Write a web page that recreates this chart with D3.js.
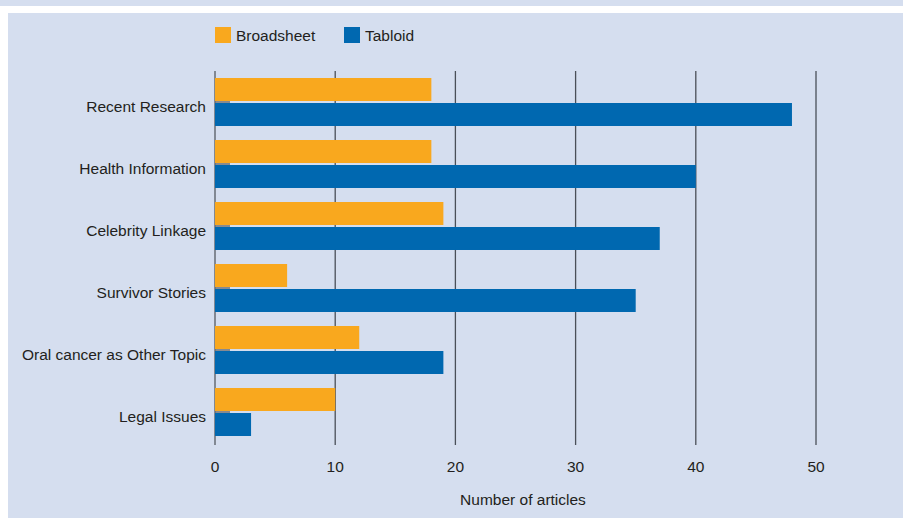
<!DOCTYPE html>
<html>
<head>
<meta charset="utf-8">
<script src="https://cdn.jsdelivr.net/npm/d3@7"></script>
<style>
  body { margin: 0; background: #fff; }
  text { font-family: "Liberation Sans Narrow", "Arial Narrow", sans-serif; fill: #231f20; }
</style>
</head>
<body>
<div id="chart"></div>
<script>
// chart data
const categories = ["Recent Research", "Health Information", "Celebrity Linkage",
                    "Survivor Stories", "Oral cancer as Other Topic", "Legal Issues"];
const seriesNames = ["Broadsheet", "Tabloid"];
const broadsheet = [18, 18, 19, 6, 12, 10];
const tabloid = [48, 40, 37, 35, 19, 3];
const xTicks = [0, 10, 20, 30, 40, 50];
const colors = ["#f9a81e", "#0068b0"];

const width = 903, height = 518;

const svg = d3.select("#chart").append("svg")
    .attr("width", width)
    .attr("height", height);

// background panels
svg.append("rect").attr("x", 0).attr("y", 0).attr("width", width).attr("height", 6).attr("fill", "#d5deef");
svg.append("rect").attr("x", 8).attr("y", 13).attr("width", width - 8).attr("height", height - 13).attr("fill", "#d5deef");

const x = d3.scaleLinear().domain([0, 50]).range([215, 816]);
const y = d3.scaleBand().domain(categories).range([71, 443])
    .paddingInner(0.226).paddingOuter(0.113);
const ySub = d3.scaleBand().domain(seriesNames).range([0, y.bandwidth()]).paddingInner(0.08);

const rows = categories.map((c, i) => ({cat: c, values: [broadsheet[i], tabloid[i]]}));

// gridlines
svg.append("g").selectAll("line")
    .data(xTicks)
    .enter().append("line")
    .attr("x1", d => x(d)).attr("x2", d => x(d))
    .attr("y1", 71).attr("y2", 445)
    .attr("stroke", d => d === 0 ? "#555a62" : "#4a4f58")
    .attr("stroke-width", 1.3);

// bars
let groups = svg.append("g").selectAll("g")
    .data(rows)
    .enter().append("g")
    .attr("transform", d => "translate(0," + y(d.cat) + ")");

groups.selectAll("rect")
    .data(d => d.values.map((v, j) => ({name: seriesNames[j], value: v, j: j})))
    .enter().append("rect")
    .attr("x", x(0))
    .attr("y", d => ySub(d.name))
    .attr("width", d => x(d.value) - x(0))
    .attr("height", ySub.bandwidth())
    .attr("fill", d => colors[d.j]);

// short inner tick marks at category centres
svg.append("g").selectAll("line")
    .data(categories)
    .enter().append("line")
    .attr("x1", x(0)).attr("x2", x(0) + 15)
    .attr("y1", d => y(d) + y.bandwidth() / 2)
    .attr("y2", d => y(d) + y.bandwidth() / 2)
    .attr("stroke", "#6d6e71")
    .attr("stroke-width", 1.5);

// category labels
svg.append("g").selectAll("text")
    .data(categories)
    .enter().append("text")
    .attr("x", 206)
    .attr("y", d => y(d) + y.bandwidth() / 2 + 6)
    .attr("text-anchor", "end")
    .attr("dominant-baseline", "middle")
    .attr("font-size", 15.5)
    .text(d => d);

// x tick labels
svg.append("g").selectAll("text")
    .data(xTicks)
    .enter().append("text")
    .attr("x", d => x(d))
    .attr("y", 468)
    .attr("text-anchor", "middle")
    .attr("dominant-baseline", "middle")
    .attr("font-size", 15.5)
    .text(d => d);

svg.append("text")
    .attr("x", 523).attr("y", 501)
    .attr("text-anchor", "middle")
    .attr("dominant-baseline", "middle")
    .attr("font-size", 15.5)
    .text("Number of articles");

// legend
const legendX = [215, 344];
let legend = svg.append("g").selectAll("g")
    .data(seriesNames)
    .enter().append("g")
    .attr("transform", (d, i) => "translate(" + legendX[i] + ",27)");
legend.append("rect")
    .attr("width", 16).attr("height", 16)
    .attr("fill", (d, i) => colors[i]);
legend.append("text")
    .attr("x", 21).attr("y", 10)
    .attr("dominant-baseline", "middle")
    .attr("font-size", 15.5)
    .text(d => d);
</script>
</body>
</html>
